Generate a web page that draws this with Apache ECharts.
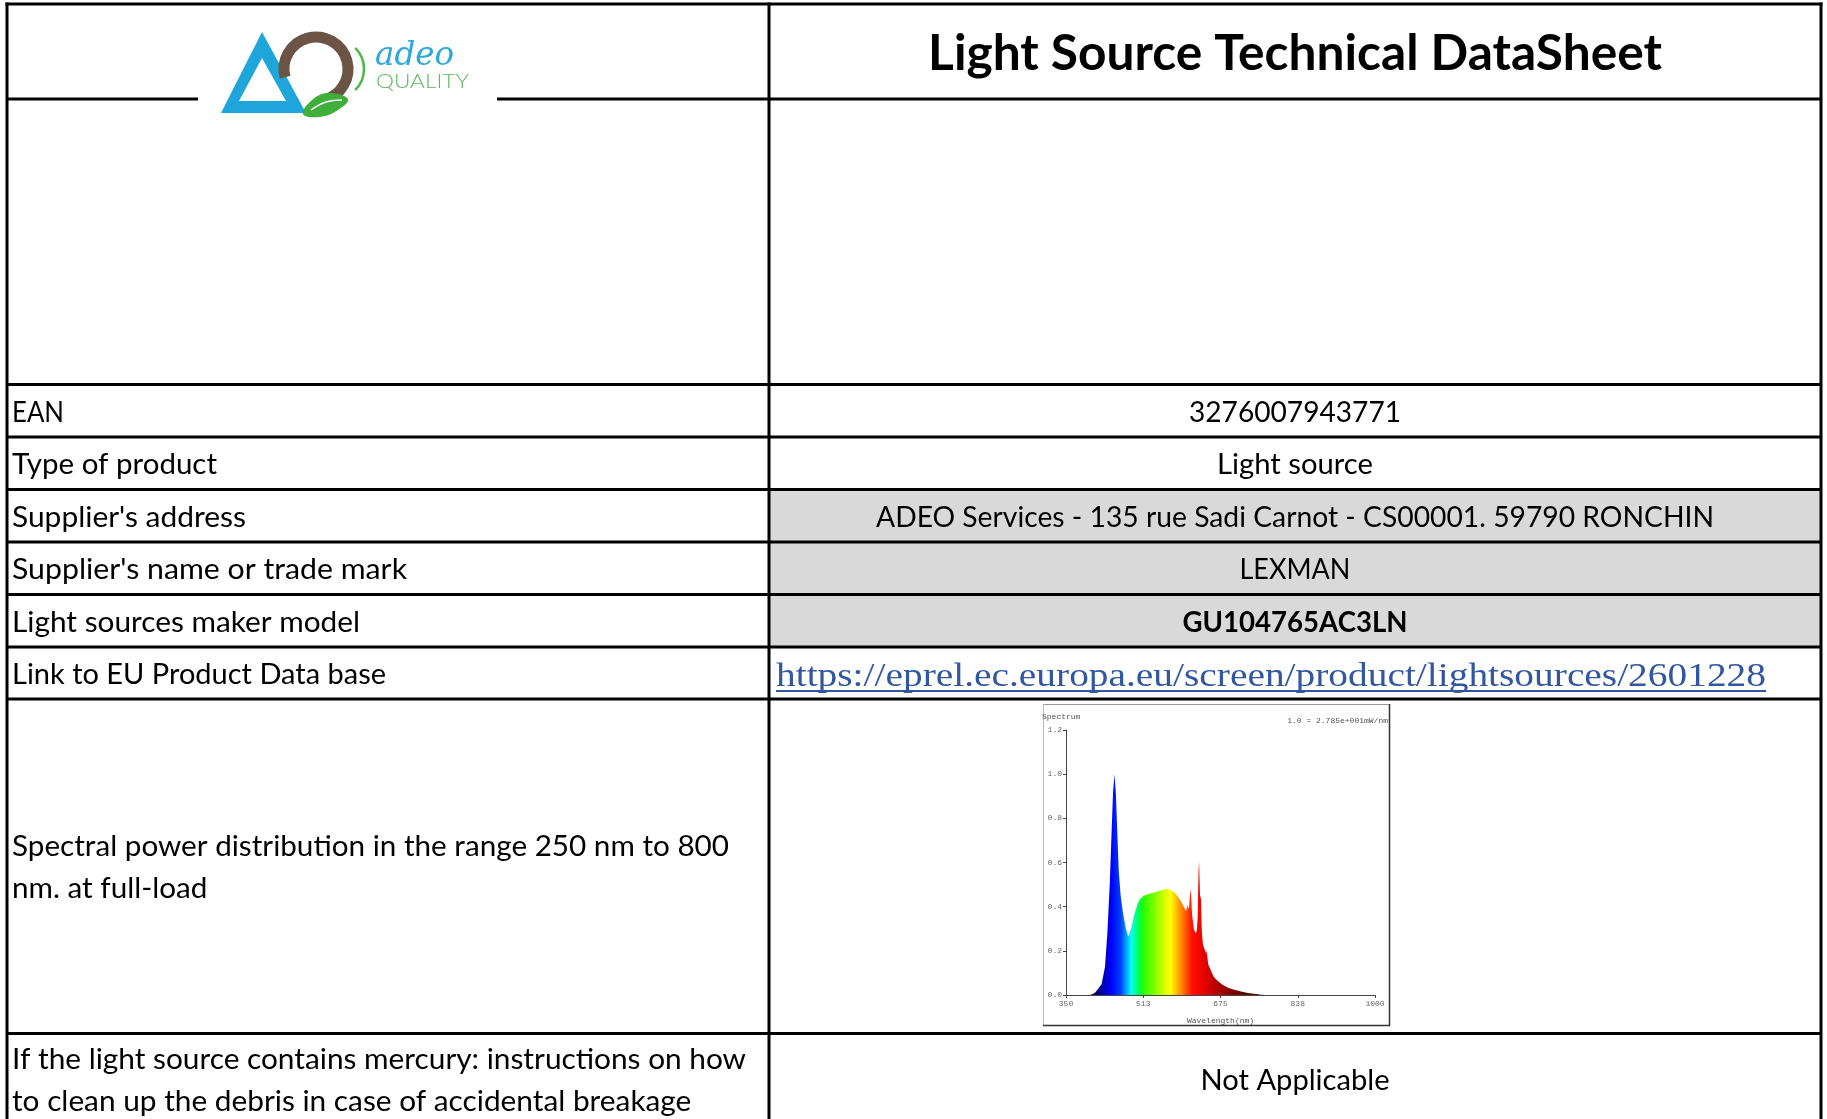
<!DOCTYPE html>
<html><head><meta charset="utf-8">
<script src="https://cdn.jsdelivr.net/npm/echarts@6/dist/echarts.min.js"></script>
<style>html,body{margin:0;padding:0;background:#fff;}#c{width:1827px;height:1119px;}</style>
</head><body><div id="c"></div>
<script>
// ---------------- data ----------------
const titleText = 'Light Source Technical DataSheet';
const rowLabels = [
  'EAN',
  'Type of product',
  "Supplier's address",
  "Supplier's name or trade mark",
  'Light sources maker model',
  'Link to EU Product Data base',
  'Spectral power distribution in the range 250 nm to 800\nnm. at full-load',
  'If the light source contains mercury: instructions on how\nto clean up the debris in case of accidental breakage'
];
const rowValues = [
  '3276007943771',
  'Light source',
  'ADEO Services - 135 rue Sadi Carnot - CS00001. 59790 RONCHIN',
  'LEXMAN',
  'GU104765AC3LN',
  'https://eprel.ec.europa.eu/screen/product/lightsources/2601228',
  '',
  'Not Applicable'
];
const logoWord = 'adeo';
const logoSub = 'QUALITY';
const chartTitle = 'Spectrum';
const chartNote = '1.0 = 2.785e+001mW/nm';
const xAxisName = 'Wavelength(nm)';
const xTickLabels = ['350', '513', '675', '838', '1000'];
const yTickLabels = ['0.0', '0.2', '0.4', '0.6', '0.8', '1.0', '1.2'];
const wavelengths = [350,360,370,380,390,400,405,411,418,425,432,437,442,446,449,452,455,458,461,465,470,476,481,484,488,495,502,506,513,520,530,541,550,558,565,569,577,583,588,593,597,600,603,605,607,609,611,612,613,615,617,619,622,625,627,628,629,630,631,632,633,634,635,636,638,640,642,644,645,646,647,649,652,656,660,665,670,675,681,690,700,716,730,740,751,760,770,800,850,900,950,1000];
const relativePower = [0,0,0,0,0,0,0.003,0.01,0.03,0.05,0.127,0.28,0.5,0.74,0.92,1.0,0.91,0.73,0.56,0.45,0.37,0.3,0.265,0.28,0.31,0.376,0.42,0.435,0.448,0.455,0.462,0.467,0.474,0.479,0.48,0.478,0.466,0.452,0.437,0.42,0.402,0.39,0.38,0.41,0.39,0.4,0.46,0.48,0.45,0.37,0.33,0.3,0.28,0.29,0.35,0.48,0.57,0.605,0.52,0.44,0.45,0.43,0.33,0.28,0.23,0.215,0.205,0.19,0.2,0.205,0.18,0.14,0.125,0.105,0.085,0.072,0.062,0.053,0.044,0.034,0.026,0.017,0.01,0.007,0.004,0.001,0,0,0,0,0,0];
const spectrumColors = ['#000040','#000050','#0000a0','#0000ff','#0040ff','#00c0ff','#00ffff','#00ffa0','#00ff40','#30ff00','#90ff00','#d8ff00','#ffff00','#ffb000','#ff6000','#ff1000','#e80000','#b00000','#800000','#500000','#400000'];
const spectrumStops = [350,405,425,445,465,480,487,495,505,515,540,558,570,585,600,615,640,670,700,740,1000];

// ---------------- layout ----------------
const X0 = 7, X1 = 769, X2 = 1821, YT = 4, YH = 99, H = 1119;
const rowEdges = [384.5, 437, 489.5, 542, 594.5, 647, 699, 1033.5, 1125];
const labelWidths = [52, 205, 234, 395, 348, 374, 717, 734];
const valueWidths = [212, 156, 838, 111, 225, 990, 0, 189];
const LW = 3;

const mc = document.createElement('canvas').getContext('2d');
function tw(text, font) { mc.font = font; return mc.measureText(text).width; }
const bodyFont = '28px Lato';
const boldFont = 'bold 28px Lato';
const titleSize = 46 * 734 / tw(titleText, 'bold 46px Lato');
const linkFont = '34px "Liberation Serif"';

const g = [];
// grey cells
g.push({type: 'rect', z: 0, shape: {x: X1, y: rowEdges[2], width: X2 - X1, height: rowEdges[5] - rowEdges[2]}, style: {fill: '#d9d9d9'}});
function hline(x1, x2, y) { g.push({type: 'line', z: 10, shape: {x1, y1: y, x2, y2: y}, style: {stroke: '#000', lineWidth: LW}}); }
function vline(x, y1, y2) { g.push({type: 'line', z: 10, shape: {x1: x, y1, x2: x, y2}, style: {stroke: '#000', lineWidth: LW}}); }
hline(X0 - 1.5, X2 + 1.5, YT);
hline(X0, 198, YH); hline(497, X2, YH);
for (let i = 0; i < 8; i++) hline(X0, X2, rowEdges[i]);
vline(X0, YT - 1.5, H); vline(X1, YT - 1.5, H); vline(X2, YT - 1.5, H);

// title
g.push({type: 'text', z: 20, x: (X1 + X2) / 2, y: 54, style: {text: titleText, font: 'bold ' + titleSize.toFixed(2) + 'px Lato', fill: '#000', align: 'center', verticalAlign: 'middle'}});

// rows
for (let i = 0; i < rowLabels.length; i++) {
  const cy = (rowEdges[i] + rowEdges[i + 1]) / 2 + 2;
  const firstLine = rowLabels[i].split('\n')[0];
  g.push({type: 'text', z: 20, x: 12, y: cy, scaleX: labelWidths[i] / tw(firstLine, bodyFont), style: {text: rowLabels[i], font: bodyFont, fill: '#000', align: 'left', verticalAlign: 'middle', lineHeight: 42}});
  if (!rowValues[i]) continue;
  if (i === 5) {
    g.push({type: 'text', z: 20, x: 776, y: cy + 2, scaleX: valueWidths[i] / tw(rowValues[i], linkFont), style: {text: rowValues[i], font: linkFont, fill: '#3257a0', align: 'left', verticalAlign: 'middle'}});
    g.push({type: 'line', z: 20, shape: {x1: 776, y1: 691, x2: 1766, y2: 691}, style: {stroke: '#3257a0', lineWidth: 2}});
  } else {
    const f = i === 4 ? boldFont : bodyFont;
    g.push({type: 'text', z: 20, x: (X1 + X2) / 2, y: cy, scaleX: valueWidths[i] / tw(rowValues[i], f), style: {text: rowValues[i], font: f, fill: '#000', align: 'center', verticalAlign: 'middle'}});
  }
}

// logo
g.push({type: 'polygon', z: 20, shape: {points: [[262, 32], [306, 113], [221, 113]]}, style: {fill: '#1ea5d9'}});
g.push({type: 'polygon', z: 21, shape: {points: [[262, 58], [286, 101], [239, 101]]}, style: {fill: '#ffffff'}});
g.push({type: 'arc', z: 22, shape: {cx: 316, cy: 69, r: 32, startAngle: 165 * Math.PI / 180, endAngle: 440 * Math.PI / 180, clockwise: true}, style: {stroke: '#6b5443', lineWidth: 11, fill: null}});
g.push({type: 'polygon', z: 23, shape: {smooth: 0.4, points: [[303, 114], [312, 100], [328, 93], [348, 99], [338, 110], [320, 117]]}, style: {fill: '#3fae3a'}});
g.push({type: 'polyline', z: 24, shape: {smooth: 0.4, points: [[311, 110], [326, 102], [342, 100]]}, style: {stroke: '#ffffff', lineWidth: 1.5, fill: null}});
g.push({type: 'arc', z: 20, shape: {cx: 334, cy: 69, r: 30, startAngle: -45 * Math.PI / 180, endAngle: 45 * Math.PI / 180, clockwise: true}, style: {stroke: '#4cb848', lineWidth: 2.5, fill: null}});
const adeoFont = 'italic 34px "DejaVu Serif"';
g.push({type: 'text', z: 20, x: 375, y: 56, scaleX: 79 / tw(logoWord, adeoFont), style: {text: logoWord, font: adeoFont, fill: '#2ea7de', align: 'left', verticalAlign: 'middle'}});
const qFont = '300 20px Lato';
g.push({type: 'text', z: 20, x: 376, y: 82, scaleX: 93 / tw(logoSub, qFont), style: {text: logoSub, font: qFont, fill: '#5ab95a', align: 'left', verticalAlign: 'middle'}});

// embedded spectrum picture frame + texts
g.push({type: 'line', z: 15, shape: {x1: 1043, y1: 704.5, x2: 1390, y2: 704.5}, style: {stroke: '#999', lineWidth: 1}});
g.push({type: 'line', z: 15, shape: {x1: 1043.5, y1: 704, x2: 1043.5, y2: 1026}, style: {stroke: '#bbb', lineWidth: 1}});
g.push({type: 'line', z: 15, shape: {x1: 1389.5, y1: 704, x2: 1389.5, y2: 1026}, style: {stroke: '#333', lineWidth: 1.5}});
g.push({type: 'line', z: 15, shape: {x1: 1043, y1: 1025.5, x2: 1390, y2: 1025.5}, style: {stroke: '#333', lineWidth: 1.5}});
const smallFont = '8px "Liberation Mono"';
g.push({type: 'text', z: 20, x: 1042, y: 717, style: {text: chartTitle, font: smallFont, fill: '#555', align: 'left', verticalAlign: 'middle'}});
g.push({type: 'text', z: 20, x: 1388, y: 721, style: {text: chartNote, font: smallFont, fill: '#555', align: 'right', verticalAlign: 'middle'}});

const stops = spectrumStops.map((w, i) => ({offset: (w - 350) / 650, color: spectrumColors[i]}));

const chart = echarts.init(document.getElementById('c'), null, {renderer: 'canvas'});
chart.setOption({
  animation: false,
  backgroundColor: '#fff',
  grid: {left: 1066, top: 730, width: 309, height: 265, containLabel: false},
  xAxis: {
    type: 'value', min: 350, max: 1000, interval: 162.5,
    name: xAxisName, nameLocation: 'middle', nameGap: 22,
    nameTextStyle: {fontFamily: 'Liberation Mono', fontSize: 8, color: '#555'},
    axisLine: {show: true, lineStyle: {color: '#444', width: 1}},
    axisTick: {show: true, length: 3, lineStyle: {color: '#444'}},
    axisLabel: {fontFamily: 'Liberation Mono', fontSize: 8, color: '#666', margin: 5, formatter: (v, i) => xTickLabels[i]},
    splitLine: {show: false}
  },
  yAxis: {
    type: 'value', min: 0, max: 1.2, interval: 0.2,
    axisLine: {show: true, lineStyle: {color: '#444', width: 1}},
    axisTick: {show: true, length: 3, lineStyle: {color: '#444'}},
    axisLabel: {fontFamily: 'Liberation Mono', fontSize: 8, color: '#666', margin: 4, formatter: (v, i) => yTickLabels[i]},
    splitLine: {show: false}
  },
  series: [{
    type: 'line',
    data: wavelengths.map((w, i) => [w, relativePower[i]]),
    showSymbol: false,
    lineStyle: {width: 0},
    areaStyle: {opacity: 1, color: new echarts.graphic.LinearGradient(0, 0, 1, 0, stops)},
    z: 3
  }],
  graphic: {elements: g}
});
</script>
</body></html>
